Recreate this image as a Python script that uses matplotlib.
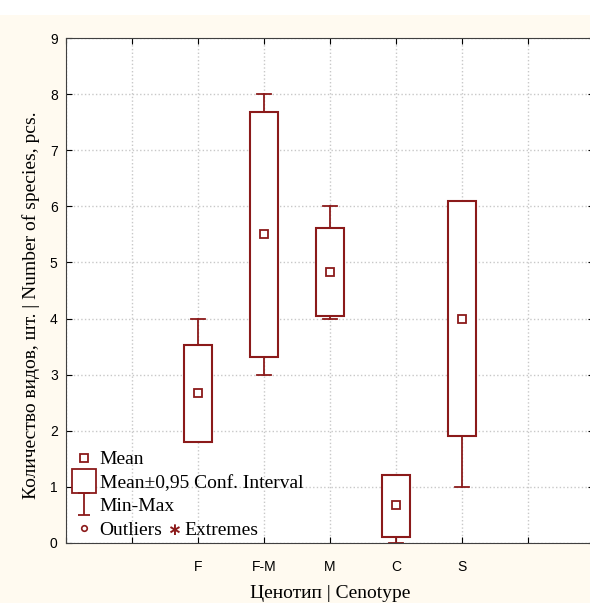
import numpy as np
import matplotlib.pyplot as plt
from matplotlib.lines import Line2D
from matplotlib.patches import Rectangle
from matplotlib.path import Path

# data
cenotypes = ['F', 'F-M', 'M', 'C', 'S']
positions = [2, 3, 4, 5, 6]
means = [2.67, 5.5, 4.83, 0.67, 4.0]
ci_low = [1.8, 3.32, 4.04, 0.1, 1.9]
ci_high = [3.53, 7.68, 5.62, 1.22, 6.1]
mins = [2, 3, 4, 0, 1]
maxs = [4, 8, 6, 1, 6]

red = '#8b1a1a'
cream = '#fffaf0'
serif = ['Liberation Serif', 'DejaVu Serif']

fig = plt.figure(figsize=(5.9, 6.03), dpi=100, facecolor=cream)
fig.patches.append(Rectangle((0, 1 - 15/603), 1, 15/603, transform=fig.transFigure,
                             facecolor='white', edgecolor='none', zorder=-1))
ax = fig.add_axes([66/590, 60/603, 528/590, 505/603])
ax.set_facecolor('white')

bw = 0.41
cw = 0.21
for p, m, lo, hi, mn, mx in zip(positions, means, ci_low, ci_high, mins, maxs):
    ax.add_patch(Rectangle((p - bw/2, lo), bw, hi - lo, facecolor='white',
                           edgecolor=red, lw=1.5, zorder=3))
    if mx > hi:
        ax.plot([p, p], [hi, mx], color=red, lw=1.3, zorder=2)
        ax.plot([p - cw/2, p + cw/2], [mx, mx], color=red, lw=1.3, zorder=2)
    if mn < lo:
        ax.plot([p, p], [lo, mn], color=red, lw=1.3, zorder=2)
        ax.plot([p - cw/2, p + cw/2], [mn, mn], color=red, lw=1.3, zorder=2)
ax.plot(positions, means, 's', ms=6, mfc='white', mec=red, mew=1.3, ls='none', zorder=4)

ax.set_xlim(0, 8)
ax.set_ylim(0, 9)
ax.set_xticks(range(0, 9))
ax.set_xticklabels(['' if i not in positions else cenotypes[positions.index(i)] for i in range(9)])
ax.set_yticks(range(0, 10))
ax.tick_params(direction='in', top=True, right=True, length=4, labelsize=10, pad=12)
ax.tick_params(axis='y', pad=6)
for lab in ax.get_xticklabels() + ax.get_yticklabels():
    lab.set_family('Liberation Sans')
ax.grid(True, ls=':', color='#c8c8c8', lw=1)
ax.set_axisbelow(True)
for s in ax.spines.values():
    s.set_color('#404040')

ax.set_xlabel('Ценотип | Cenotype', family=serif, fontsize=14, labelpad=8)
ax.set_ylabel('Количество видов, шт. | Number of species, pcs.', family=serif, fontsize=14)
ax.yaxis.set_label_coords(-0.049, 0.471)

# I-shaped marker for Min-Max
imark = Path([(-0.5, 1), (0.5, 1), (0, 1), (0, -1), (-0.5, -1), (0.5, -1)],
             [Path.MOVETO, Path.LINETO, Path.MOVETO, Path.LINETO, Path.MOVETO, Path.LINETO])

handles = [
    Line2D([], [], marker='s', ms=6, mfc='white', mec=red, mew=1.3, ls='none'),
    Line2D([], [], marker='s', ms=17, mfc='white', mec=red, mew=1.3, ls='none'),
    Line2D([], [], marker=imark, ms=16, color=red, mew=1.3, ls='none'),
    Line2D([], [], marker='o', ms=4, mfc='white', mec=red, mew=1.2, ls='none'),
]
labels = ['Mean', 'Mean\u00b10,95 Conf. Interval', 'Min-Max', 'Outliers']
leg = ax.legend(handles, labels, loc='lower left', bbox_to_anchor=(0.002, -0.005),
                frameon=False, handlelength=1, handletextpad=0.32, labelspacing=0.3,
                borderaxespad=0.05, borderpad=0.3, prop={'family': serif, 'size': 14})

# red asterisk and "Extremes" after the Outliers entry
fig.canvas.draw()
bb = leg.get_texts()[3].get_window_extent().transformed(ax.transAxes.inverted())
ymid = (bb.y0 + bb.y1) / 2
ast = ax.annotate('\u2217', xy=(bb.x1, ymid), xycoords='axes fraction', xytext=(3, 0),
                  textcoords='offset points', ha='left', va='center',
                  color=red, fontsize=12, fontweight='bold', family='DejaVu Sans')
ax.annotate('Extremes', xy=(1, 0.5), xycoords=ast, xytext=(3, 0),
            textcoords='offset points', ha='left', va='center',
            fontsize=14, family=serif)

fig.savefig('out.png', dpi=100, facecolor=cream)
